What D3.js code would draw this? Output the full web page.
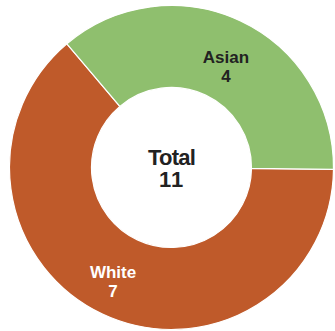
<!DOCTYPE html>
<html>
<head>
<meta charset="utf-8">
<script src="https://cdn.jsdelivr.net/npm/d3@7"></script>
<style>
  html, body { margin: 0; padding: 0; background: #fff; }
  svg { display: block; }
  text { font-family: "Liberation Sans", Arial, sans-serif; font-weight: bold; }
</style>
</head>
<body>
<div id="chart"></div>
<script>
// Donut of counts by group, with the total in the hole
const categories = ["White", "Asian"];
const values = [7, 4];
const colors = ["#bf5a2a", "#8fbf6e"];
const labelColors = ["#ffffff", "#222222"];
const totalLabel = "Total";

const width = 335, height = 331;
const cx = 171.5, cy = 167.5;
const outerR = 162, innerR = 80;
const start = Math.PI / 2 + 0.012;

const svg = d3.select("#chart").append("svg")
  .attr("width", width).attr("height", height);

const g = svg.append("g").attr("transform", `translate(${cx},${cy})`);

const data = categories.map((c, i) => ({ name: c, value: values[i], color: colors[i], lc: labelColors[i] }));

const pie = d3.pie().value(d => d.value).sort(null)
  .startAngle(start).endAngle(start + 2 * Math.PI);

const arc = d3.arc().innerRadius(innerR).outerRadius(outerR);
const labelArc = d3.arc().innerRadius(121).outerRadius(121);

const arcs = pie(data);

g.selectAll("path.slice").data(arcs).join("path")
  .attr("class", "slice")
  .attr("d", arc)
  .attr("fill", d => d.data.color)
  .attr("stroke", "#fff")
  .attr("stroke-width", 1.2);

// Slice labels: name then value
const labels = g.selectAll("g.lbl").data(arcs).join("g")
  .attr("class", "lbl")
  .attr("transform", d => {
    const shift = 0.045;
    const [x, y] = labelArc.centroid({ startAngle: d.startAngle + shift, endAngle: d.endAngle + shift });
    return `translate(${x - 2},${y})`;
  });

labels.append("text")
  .attr("text-anchor", "middle")
  .attr("y", 3)
  .attr("font-size", 17)
  .attr("fill", d => d.data.lc)
  .text(d => d.data.name);

labels.append("text")
  .attr("text-anchor", "middle")
  .attr("y", 22)
  .attr("font-size", 17)
  .attr("fill", d => d.data.lc)
  .text(d => d.data.value);

// Center total
const total = d3.sum(values);
g.append("text")
  .attr("text-anchor", "middle")
  .attr("y", -3)
  .attr("font-size", 22)
  .attr("letter-spacing", -0.8)
  .attr("fill", "#222")
  .text(totalLabel);

g.append("text")
  .attr("text-anchor", "middle")
  .attr("y", 19.5)
  .attr("font-size", 22)
  .attr("letter-spacing", 1)
  .attr("fill", "#222")
  .text(total);
</script>
</body>
</html>
